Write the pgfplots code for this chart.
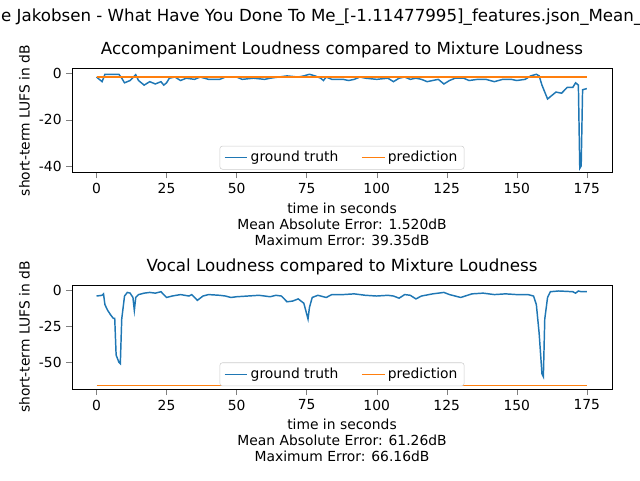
\documentclass[border=0pt]{standalone}
\usepackage{pgfplots}
\pgfplotsset{compat=1.18}
\usepackage{fontspec}
\setmainfont{DejaVu Sans}
\definecolor{mblue}{HTML}{1F77B4}
\definecolor{morange}{HTML}{FF7F0E}
\pgfplotsset{myax/.style={scale only axis, width=405pt, height=78.3pt,
 xmin=-8.75, xmax=184, xtick={0,25,...,175},
 tick label style={font=\fontsize{10.4}{12}\selectfont},
 label style={font=\fontsize{10.4}{12}\selectfont},
 title style={font=\fontsize{12.5}{14}\selectfont, yshift=-2pt},
 /pgf/number format/assume math mode=true,
 tick align=outside, xtick pos=bottom, ytick pos=left,
 legend columns=2, legend style={at={(0.5,0.03)},anchor=south,font=\fontsize{10.4}{12}\selectfont,draw=black!20,rounded corners=2pt,/tikz/every even column/.append style={column sep=15pt}},
 legend cell align=left,
 xlabel style={align=center},
 every axis plot/.append style={line width=1.1pt}}}
\begin{document}
\begin{tikzpicture}
\path[use as bounding box] (0pt,0pt) rectangle (480pt,360pt);
\begin{scope}
\clip (0pt,0pt) rectangle (480pt,360pt);
\node[anchor=north,font=\fontsize{12.5}{14}\selectfont] at (240pt,357pt) {Ane Jakobsen - What Have You Done To Me\_[-1.11477995]\_features.json\_Mean\_vs};
\end{scope}
\begin{axis}[myax, at={(54pt,230.5pt)},anchor=south west, ymin=-42.9, ymax=2.3, ytick={0,-20,-40},
 title={Accompaniment Loudness compared to Mixture Loudness},
 ylabel={short-term LUFS in dB},
 xlabel={time in seconds\\Mean Absolute Error: 1.520dB\\Maximum Error: 39.35dB}]
\addplot[mblue] coordinates {(0,-1.5)(2,-3.5)(3,-0.3)(8,-0.3)(9,-2)(10,-4)(12,-3)(14,-0.5)(15,-3)(17,-5)(19,-3.5)(21,-4.5)(23,-3.5)(24,-5)(25,-4)(26,-2)(28,-1.5)(30,-3)(32,-2)(35,-2.5)(37,-1.5)(40,-2.5)(44,-2.5)(46,-1.5)(50,-1.5)(52,-2.5)(56,-2)(60,-2.5)(62,-2)(65,-1.5)(68,-1)(72,-1.5)(74,-1)(76,-0.3)(78,-1)(80,-2)(81,-3)(82,-1.5)(84,-2.5)(88,-2.5)(90,-3)(92,-2.5)(94,-1.5)(96,-2)(100,-2.5)(104,-2)(106,-3.5)(108,-2)(110,-1.5)(112,-2.5)(114,-2)(116,-2.5)(118,-3.5)(120,-3)(122,-2.5)(124,-4.5)(126,-3)(128,-2)(131,-2)(133,-3)(136,-2.5)(139,-2.5)(142,-3.5)(145,-2.5)(148,-2.5)(150,-3)(153,-2.5)(155,-1)(157,-0.3)(158,-1)(159,-5)(160,-8)(161,-11)(162,-10)(164,-8)(166,-8.5)(168,-6)(170,-6)(171,-4)(172,-5)(172.5,-41)(173,-40)(173.5,-7)(175,-6.5)};
\addlegendentry{ground truth}
\addplot[morange] coordinates {(0,-1.5)(175,-1.5)};
\addlegendentry{prediction}
\end{axis}
\begin{axis}[myax, at={(54pt,68pt)},anchor=south west, ymin=-68.8, ymax=3.7, ytick={0,-25,-50},
 title={Vocal Loudness compared to Mixture Loudness},
 ylabel={short-term LUFS in dB},
 xlabel={time in seconds\\Mean Absolute Error: 61.26dB\\Maximum Error: 66.16dB}]
\addplot[mblue] coordinates {(0,-4)(2,-3.5)(2.5,-2.5)(3,-10)(4,-14)(5,-17)(6,-19.5)(6.5,-19.5)(7,-45)(8,-50)(8.5,-51)(9,-20)(10,-4)(11,-1.5)(12,-2)(13,-5)(13.5,-14)(14,-5)(15,-3)(17,-2)(19,-1.5)(21,-2)(23,-1)(25,-5)(27,-4)(30,-3)(33,-4)(34,-3)(36,-7)(38,-4)(40,-3)(44,-3.5)(46,-4)(48,-5)(50,-4.5)(54,-4)(58,-3.5)(62,-4.5)(64,-3.5)(66,-4)(68,-8)(70,-7.5)(72,-6)(74,-9)(75.5,-20)(76,-12)(77,-5)(79,-3.5)(80,-4)(82,-5)(84,-3)(88,-3)(92,-2.5)(96,-3.5)(100,-4)(104,-3.5)(106,-4)(108,-5.5)(110,-3)(112,-3.5)(114,-6)(116,-4)(120,-2.5)(124,-1.5)(126,-3)(130,-5)(134,-2.5)(138,-2)(142,-3)(146,-2.5)(150,-3)(154,-3)(156,-4)(157,-10)(158,-30)(159,-58)(159.5,-60)(160,-20)(161,-5)(162,-1)(165,-0.5)(170,-1)(171,-2)(172,-0.5)(173,-1)(175,-1)};
\addlegendentry{ground truth}
\addplot[morange] coordinates {(0,-66.3)(175,-66.3)};
\addlegendentry{prediction}
\end{axis}
\end{tikzpicture}
\end{document}
